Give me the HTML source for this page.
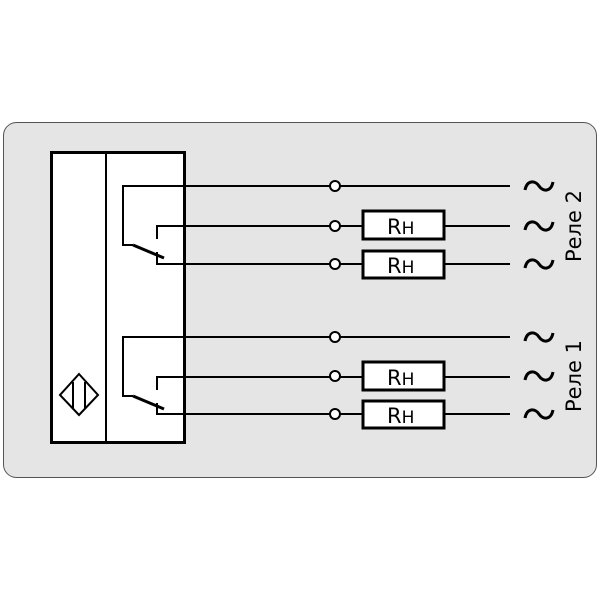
<!DOCTYPE html>
<html><head><meta charset="utf-8"><style>body{margin:0;background:#fff}svg{display:block}</style></head><body>
<svg width="600" height="600" viewBox="0 0 600 600" xmlns="http://www.w3.org/2000/svg" font-family="DejaVu Sans, Liberation Sans, sans-serif">
<defs><path id="t" d="M-14,4 C-12,-6 -4,-6 0,0 C4,6 12,6 14,-4" fill="none" stroke="#000" stroke-width="3"/></defs>
<rect x="3.5" y="122.5" width="593" height="355" rx="13" fill="#e5e5e5" stroke="#555" stroke-width="1"/>
<rect x="51.5" y="152.5" width="133" height="290" fill="#fff" stroke="#000" stroke-width="3"/>
<line x1="106" y1="152" x2="106" y2="443" stroke="#000" stroke-width="2"/>
<polygon points="79,374 98,395 79,415 60,395" fill="none" stroke="#000" stroke-width="2"/>
<line x1="73" y1="382" x2="73" y2="408" stroke="#000" stroke-width="2"/>
<line x1="85" y1="382" x2="85" y2="408" stroke="#000" stroke-width="2"/>
<g stroke="#000" stroke-width="2" fill="none">
<g>
<polyline points="510,186 123,186 123,245 133,245"/>
<line x1="133" y1="245" x2="164" y2="258" stroke-width="3"/>
<polyline points="510,226 157,226 157,239"/>
<polyline points="157,252 157,264 510,264"/>
</g>
<g transform="translate(0,151)">
<polyline points="510,186 123,186 123,245 133,245"/>
<line x1="133" y1="245" x2="164" y2="258" stroke-width="3"/>
<polyline points="510,226 157,226 157,239"/>
<polyline points="157,252 157,263 510,263"/>
</g>
</g>
<g fill="#fff" stroke="#000" stroke-width="2">
<circle cx="335" cy="186" r="5"/><circle cx="335" cy="226" r="5"/><circle cx="335" cy="264" r="5"/>
<circle cx="335" cy="337" r="5"/><circle cx="335" cy="376" r="5"/><circle cx="335" cy="414" r="5"/>
<rect x="363" y="211" width="81" height="28" stroke-width="3"/>
<rect x="363" y="251" width="81" height="27" stroke-width="3"/>
<rect x="363" y="362" width="81" height="28" stroke-width="3"/>
<rect x="363" y="401" width="81" height="27" stroke-width="3"/>
</g>
<g font-size="21" fill="#000">
<text x="387" y="234">R<tspan font-size="17">H</tspan></text>
<text x="387" y="273">R<tspan font-size="17">H</tspan></text>
<text x="387" y="385">R<tspan font-size="17">H</tspan></text>
<text x="387" y="423">R<tspan font-size="17">H</tspan></text>
</g>
<use href="#t" x="539" y="186"/><use href="#t" x="539" y="226"/><use href="#t" x="539" y="264"/>
<use href="#t" x="539" y="337"/><use href="#t" x="539" y="376"/><use href="#t" x="539" y="414"/>
<g font-size="21" fill="#000" text-anchor="middle">
<text transform="translate(581,226) rotate(-90)">Реле 2</text>
<text transform="translate(581,376) rotate(-90)">Реле 1</text>
</g>
</svg>
</body></html>
